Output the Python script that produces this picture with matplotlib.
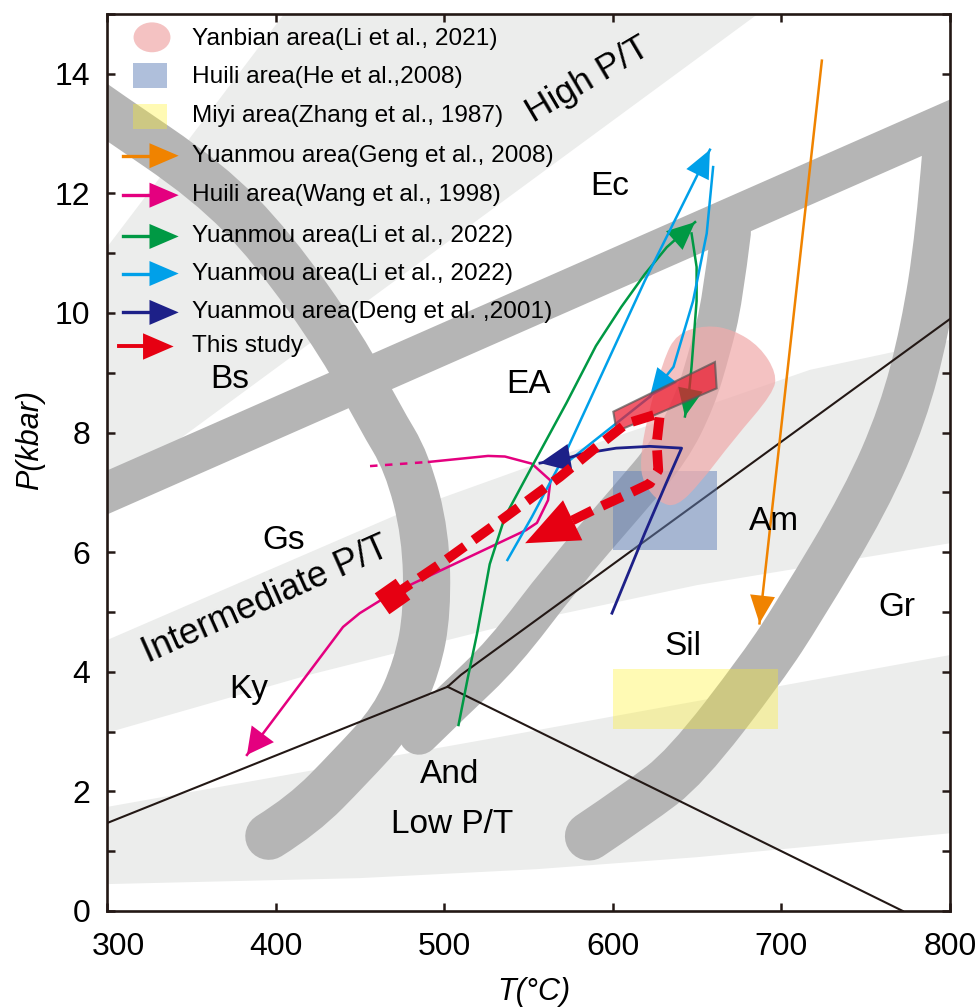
import matplotlib
matplotlib.use("Agg")
import matplotlib.pyplot as plt
from matplotlib.patches import Polygon, Ellipse, Rectangle, PathPatch
from matplotlib.path import Path
from matplotlib.ticker import MultipleLocator
from matplotlib.transforms import ScaledTranslation

plt.rcParams["font.family"] = ["Liberation Sans", "DejaVu Sans"]

LIGHT = "#ecedec"; BAND = "#b5b5b5"; INK = "#231815"
ORANGE = "#f08300"; MAGENTA = "#e4007f"; GREEN = "#009944"
CYAN = "#00a0e9"; NAVY = "#1d2088"; RED = "#e60012"

# ---- facies-series fields (T in degC, P in kbar) ----
high_T = [300, 300, 405, 686]
high_P = [7.0, 11.1, 15.0, 15.0]
inter_top_T = [300, 400, 478, 567, 640, 717, 800]
inter_top_P = [4.53, 5.75, 6.7, 7.6, 8.3, 9.05, 9.55]
inter_bot_T = [300, 420, 533, 650, 800]
inter_bot_P = [2.98, 3.95, 4.75, 5.45, 6.15]
low_top_T = [300, 533, 800]
low_top_P = [1.74, 2.91, 4.28]
low_bot_T = [300, 450, 555, 650, 800]
low_bot_P = [0.45, 0.55, 0.7, 0.9, 1.3]

# ---- facies boundaries (thick grey bands) ----
ec_T = [280, 820]
ec_P = [6.75, 13.45]
bs_T = [285, 300, 360, 398, 440, 462, 478, 489, 490, 484, 470, 444, 416, 396]
bs_P = [13.65, 13.35, 12.2, 11.1, 9.43, 8.25, 7.5, 6.3, 5.0, 4.1, 3.2, 2.4, 1.6, 1.25]
am_T = [485, 505, 535, 570, 609, 634, 649, 658, 665, 670]
am_P = [2.95, 3.5, 4.3, 5.6, 6.87, 7.7, 8.55, 9.4, 10.2, 11.35]
gr_T = [586, 615, 643, 689, 711, 750, 772, 785, 794, 798]
gr_P = [1.25, 1.8, 2.4, 4.08, 5.03, 6.87, 8.3, 9.7, 11.3, 12.7]

# ---- Al2SiO5 triple point lines ----
ky_and_T = [300, 502]; ky_and_P = [1.47, 3.75]
ky_sil_T = [502, 510, 800]; ky_sil_P = [3.75, 3.95, 9.9]
and_sil_T = [502, 772]; and_sil_P = [3.75, 0.0]

# ---- study areas ----
yanbian_T = [637.9, 655.6, 671.5, 687.3, 697.2, 695.2, 671.5, 651.7, 637.9, 628, 618, 616.1, 620, 629.9]
yanbian_P = [9.66, 9.8, 9.72, 9.44, 8.99, 8.66, 7.88, 7.15, 6.76, 6.82, 7.15, 7.54, 8.21, 9.21]
huili_T = [600, 662]; huili_P = [6.04, 7.36]
miyi_T = [600, 698]; miyi_P = [3.04, 4.04]
box_T = [600.3, 660.6, 661.6, 602.3]
box_P = [8.35, 9.18, 8.74, 8.02]

# ---- P-T paths ----
geng_T = [724, 687]; geng_P = [14.22, 4.81]
wang_dot_T = [456, 491]; wang_dot_P = [7.44, 7.51]
wang_T = [491, 526, 536, 552, 563, 561.6, 555, 548.6, 481.8, 462.5, 449.9, 440, 383]
wang_P = [7.51, 7.61, 7.6, 7.48, 7.2, 6.87, 6.49, 6.37, 5.48, 5.2, 4.98, 4.75, 2.61]
li_g1_T = [508.5, 514, 519.5, 527, 536, 552, 572.6, 590, 605, 619, 632, 648.8]
li_g1_P = [3.11, 3.9, 4.64, 5.8, 6.59, 7.43, 8.5, 9.45, 10.1, 10.65, 11.1, 11.52]
li_g2_T = [646.7, 649.7, 649.7, 646.7, 644.8, 642.8]
li_g2_P = [11.33, 10.77, 10.2, 9.1, 8.55, 8.27]
li_c1_T = [537.5, 552, 571, 619, 657.6]
li_c1_P = [5.87, 6.59, 7.6, 10.54, 12.73]
li_c2_T = [659.5, 655.7, 647.6, 636, 622]
li_c2_P = [12.44, 11.33, 10.2, 9.1, 8.6]
li_c3_T = [622, 570.5]; li_c3_P = [8.6, 7.45]
deng_T = [599.5, 619, 631.6, 640.8, 622, 602, 582.5, 572.6, 556.8]
deng_P = [4.98, 6.32, 7.15, 7.74, 7.77, 7.74, 7.65, 7.57, 7.49]
this_T = [469, 500, 533, 568.7, 590.4, 608, 624, 628, 626, 627, 622, 608, 588, 575.2]
this_P = [5.26, 5.85, 6.52, 7.26, 7.76, 8.15, 8.29, 8.32, 7.82, 7.37, 7.15, 6.96, 6.7, 6.52]
this_tip = (548, 6.15)

fig = plt.figure(figsize=(9.76, 10.07), dpi=100)
ax = fig.add_axes([107/976, 96/1007, 843/976, 897/1007])
ax.set_xlim(300, 800); ax.set_ylim(0, 15)


def smooth_open(t, p):
    # quadratic Bezier through mid-points, passing the two ends
    pts = list(zip(t, p)); n = len(pts)
    verts = [pts[0]]; codes = [Path.MOVETO]
    for i in range(1, n - 1):
        m = ((pts[i][0] + pts[i+1][0]) / 2, (pts[i][1] + pts[i+1][1]) / 2)
        if i == n - 2:
            m = pts[-1]
        verts += [pts[i], m]; codes += [Path.CURVE3, Path.CURVE3]
    return Path(verts, codes)


def smooth_blob(t, p):
    pts = list(zip(t, p)); n = len(pts)
    mid = [((pts[i][0] + pts[(i+1) % n][0]) / 2, (pts[i][1] + pts[(i+1) % n][1]) / 2) for i in range(n)]
    verts = [mid[-1]]; codes = [Path.MOVETO]
    for i in range(n):
        verts += [pts[i], mid[i]]; codes += [Path.CURVE3, Path.CURVE3]
    return Path(verts, codes)


# light fields
ax.add_patch(Polygon(list(zip(high_T, high_P)), closed=True, fc=LIGHT, ec="none", zorder=1))
ax.add_patch(Polygon(list(zip(inter_top_T, inter_top_P)) + list(zip(inter_bot_T, inter_bot_P))[::-1],
                     closed=True, fc=LIGHT, ec="none", zorder=1))
ax.add_patch(Polygon(list(zip(low_top_T, low_top_P)) + list(zip(low_bot_T, low_bot_P))[::-1],
                     closed=True, fc=LIGHT, ec="none", zorder=1))

# grey bands
ax.plot(ec_T, ec_P, color=BAND, lw=29, zorder=2)
for t, p, w in [(bs_T, bs_P, 34), (am_T, am_P, 29), (gr_T, gr_P, 35)]:
    ax.add_patch(PathPatch(smooth_open(t, p), fill=False, ec=BAND, lw=w,
                           capstyle="round", joinstyle="round", zorder=2))

# triple point lines
for t, p in [(ky_and_T, ky_and_P), (ky_sil_T, ky_sil_P), (and_sil_T, and_sil_P)]:
    ax.plot(t, p, color=INK, lw=1.5, zorder=3)

# areas
ax.add_patch(Rectangle((huili_T[0], huili_P[0]), huili_T[1]-huili_T[0], huili_P[1]-huili_P[0],
                       fc="#6181b9", alpha=0.5, ec="none", zorder=4))
ax.add_patch(Rectangle((miyi_T[0], miyi_P[0]), miyi_T[1]-miyi_T[0], miyi_P[1]-miyi_P[0],
                       fc="#fff01e", alpha=0.33, ec="none", zorder=4))
ax.add_patch(PathPatch(smooth_blob(yanbian_T, yanbian_P), fc="#f0acac", alpha=0.73,
                       ec="none", zorder=4))


def head(t, p, color, L, W, z):
    ax.annotate("", xy=(t[-1], p[-1]), xytext=(t[-2], p[-2]),
                arrowprops=dict(arrowstyle=f"-|>,head_length={L},head_width={W}", color=color,
                                lw=0, shrinkA=0, shrinkB=0, mutation_scale=1), zorder=z)


# paths
ax.plot(geng_T, geng_P, color=ORANGE, lw=1.8, zorder=5); head(geng_T, geng_P, ORANGE, 20, 9, 5)
ax.plot(wang_dot_T, wang_dot_P, color=MAGENTA, lw=1.8, dashes=(3, 3), zorder=5)
ax.plot(wang_T, wang_P, color=MAGENTA, lw=1.8, zorder=5); head(wang_T, wang_P, MAGENTA, 19, 10, 5)
ax.plot(li_g1_T, li_g1_P, color=GREEN, lw=1.8, zorder=5); head(li_g1_T, li_g1_P, GREEN, 20, 9, 5)
ax.plot(li_g2_T, li_g2_P, color=GREEN, lw=1.8, zorder=5); head(li_g2_T, li_g2_P, GREEN, 20, 9, 5)
ax.plot(li_c1_T, li_c1_P, color=CYAN, lw=1.8, zorder=5); head(li_c1_T, li_c1_P, CYAN, 20, 9, 5)
ax.plot(li_c2_T, li_c2_P, color=CYAN, lw=1.8, zorder=5); head(li_c2_T, li_c2_P, CYAN, 20, 9, 5)
ax.plot(li_c3_T, li_c3_P, color=CYAN, lw=1.8, zorder=5)
ax.plot(deng_T, deng_P, color=NAVY, lw=2, zorder=6); head(deng_T, deng_P, NAVY, 22, 10, 6)

ax.add_patch(Polygon(list(zip(box_T, box_P)), closed=True, fc="#ec1c30", alpha=0.72,
                     ec="#595757", lw=1.5, zorder=7))
ax.plot(this_T, this_P, color=RED, lw=7, dashes=(2.3, 1.1), dash_capstyle="butt", zorder=8)
ax.plot([this_T[0]], [this_P[0]], marker=(4, 0, -10), ms=26, color=RED, mec="none", zorder=8)
head([this_T[-1], this_tip[0]], [this_P[-1], this_tip[1]], RED, 38, 16, 8)

# region labels
lab = dict(fontsize=24, ha="center", va="center", color="black", zorder=9)
ax.text(373, 8.88, "Bs", **lab)
ax.text(550, 8.8, "EA", **lab)
ax.text(598.3, 12.12, "Ec", **lab)
ax.text(404.7, 6.2, "Gs", **lab)
ax.text(384, 3.7, "Ky", **lab)
ax.text(503.4, 2.29, "And", **lab)
ax.text(504.6, 1.45, "Low P/T", **lab)
ax.text(695.6, 6.51, "Am", **lab)
ax.text(641.6, 4.42, "Sil", **lab)
ax.text(768.4, 5.07, "Gr", **lab)
ax.text(394, 5.2, "Intermediate P/T", rotation=24, rotation_mode="anchor",
        **{**lab, "fontsize": 26})
ax.text(585, 13.9, "High P/T", rotation=30.6, rotation_mode="anchor",
        **{**lab, "fontsize": 25.5})

# legend (drawn by hand)
ax.add_patch(Ellipse((326.7, 14.61), 21.9, 0.5, fc="#f0acac", alpha=0.73, ec="none", zorder=10))
ax.add_patch(Rectangle((315.4, 13.76), 20.2, 0.42, fc="#6181b9", alpha=0.5, ec="none", zorder=10))
ax.add_patch(Rectangle((315.4, 13.08), 20.2, 0.41, fc="#fff01e", alpha=0.33, ec="none", zorder=10))
leg_rows = [14.59, 13.95, 13.29, 12.63, 11.97, 11.28, 10.66, 10.01, 9.44]
leg_text = ["Yanbian area(Li et al., 2021)", "Huili area(He et al.,2008)",
            "Miyi area(Zhang et al., 1987)", "Yuanmou area(Geng et al., 2008)",
            "Huili area(Wang et al., 1998)", "Yuanmou area(Li et al., 2022)",
            "Yuanmou area(Li et al., 2022)", "Yuanmou area(Deng et al. ,2001)", "This study"]
leg_cols = [ORANGE, MAGENTA, GREEN, CYAN, NAVY]
for y, t in zip(leg_rows, leg_text):
    ax.text(350.4, y, t, fontsize=17.6, ha="left", va="center", zorder=10)
for y, c in zip(leg_rows[3:8], leg_cols):
    ax.plot([309.5, 326], [y, y], color=c, lw=2.4, zorder=10)
    head([325, 342.5], [y, y], c, 21, 9, 10)
ax.plot([306.9, 322], [leg_rows[8]] * 2, color=RED, lw=2.8, zorder=10)
head([321, 339.5], [leg_rows[8]] * 2, RED, 22, 9.5, 10)

# axes styling
ax.set_xticks([300, 400, 500, 600, 700, 800])
ax.yaxis.set_major_locator(MultipleLocator(2))
ax.yaxis.set_minor_locator(MultipleLocator(1))
ax.tick_params(which="both", direction="in", top=True, right=True, length=6, width=1.8,
               color=INK, labelsize=23)
ax.tick_params(axis="x", pad=15)
ax.tick_params(axis="y", pad=12)
for s in ax.spines.values():
    s.set_linewidth(1.9); s.set_color(INK); s.set_zorder(12)
first = ax.xaxis.get_major_ticks()[0].label1
first.set_transform(first.get_transform() + ScaledTranslation(0.11, 0, fig.dpi_scale_trans))
ax.set_xlabel("T(°C)", fontsize=22, style="italic")
ax.set_ylabel("P(kbar)", fontsize=22, style="italic")
ax.xaxis.set_label_coords(0.5065, -0.074)
ax.yaxis.set_label_coords(-0.0735, 0.525)

fig.savefig("out.png", dpi=100)
